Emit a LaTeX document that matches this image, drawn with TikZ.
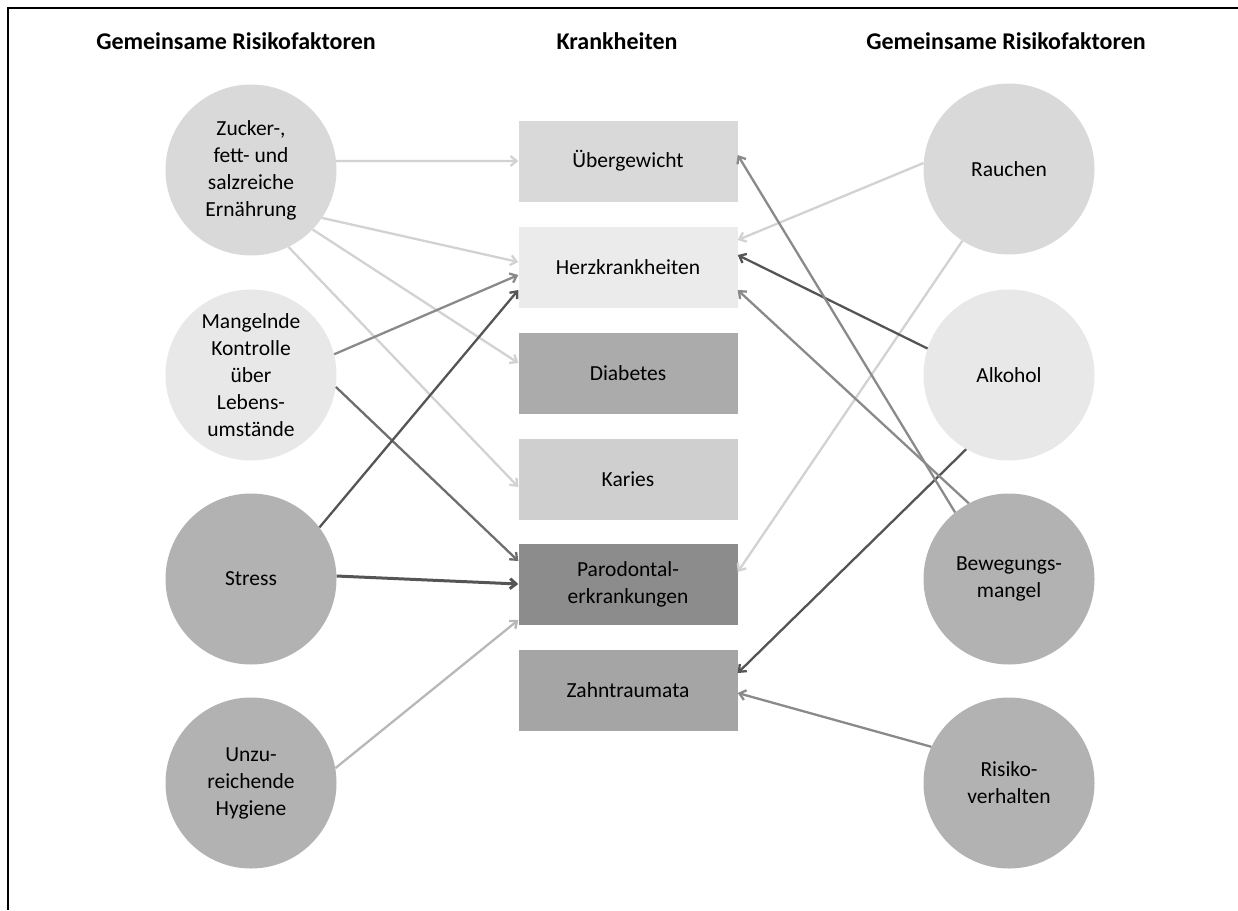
\documentclass[tikz,border=0pt]{standalone}
\usepackage{fontspec}
\setmainfont{Carlito}
\usetikzlibrary{arrows.meta}
\begin{document}
\begin{tikzpicture}[x=1pt,y=-1pt,
  factor/.style={circle,minimum size=171pt,inner sep=0pt,align=center,
    font=\fontsize{21.5}{27}\selectfont},
  disease/.style={rectangle,minimum width=219pt,minimum height=81pt,inner sep=0pt,
    align=center,font=\fontsize{21.5}{27}\selectfont},
  header/.style={font=\fontsize{24}{28}\selectfont\bfseries},
  link/.style={line width=2.3pt,-{Straight Barb[length=6pt,width=10pt]}},
]
\definecolor{gA}{HTML}{D9D9D9}
\definecolor{gB}{HTML}{E8E8E8}
\definecolor{gC}{HTML}{B2B2B2}
\definecolor{dUeber}{HTML}{D9D9D9}
\definecolor{dHerz}{HTML}{EBEBEB}
\definecolor{dDiab}{HTML}{ABABAB}
\definecolor{dKaries}{HTML}{CFCFCF}
\definecolor{dParo}{HTML}{8C8C8C}
\definecolor{dZahn}{HTML}{A5A5A5}
\definecolor{lLight}{HTML}{D2D2D2}
\definecolor{lMid}{HTML}{8A8A8A}
\definecolor{lDark}{HTML}{555555}
\definecolor{lPale}{HTML}{B8B8B8}
\definecolor{lDeep}{HTML}{6E6E6E}

\useasboundingbox (0,0) rectangle (1238,910);
% frame
\draw[line width=2.5pt] (8,910) -- (8,8) -- (1238,8);

% column headers
\node[header] (hl) at (236,41) {Gemeinsame Risikofaktoren};
\node[header] (hm) at (617,41) {Krankheiten};
\node[header] (hr) at (1006,41) {Gemeinsame Risikofaktoren};

% risk factors, left
\node[factor,fill=gA] (zucker) at (251,170) {Zucker-,\\fett- und\\salzreiche\\Ernährung};
\node[factor,fill=gB] (kontrolle) at (251,375) {Mangelnde\\Kontrolle\\über\\Lebens-\\umstände};
\node[factor,fill=gC] (stress) at (251,579) {Stress};
\node[factor,fill=gC] (hygiene) at (251,783) {Unzu-\\reichende\\Hygiene};

% risk factors, right
\node[factor,fill=gA] (rauchen) at (1009,169) {Rauchen};
\node[factor,fill=gB] (alkohol) at (1009,375) {Alkohol};
\node[factor,fill=gC] (bewegung) at (1009,579) {Bewegungs-\\mangel};
\node[factor,fill=gC] (risiko) at (1009,783) {Risiko-\\verhalten};

% diseases
\node[disease,fill=dUeber] (ueber) at (628,161) {Übergewicht};
\node[disease,fill=dHerz] (herz) at (628,267) {Herzkrankheiten};
\node[disease,fill=dDiab] (diab) at (628,373) {Diabetes};
\node[disease,fill=dKaries] (karies) at (628,479) {Karies};
\node[disease,fill=dParo] (paro) at (628,584) {Parodontal-\\erkrankungen};
\node[disease,fill=dZahn] (zahn) at (628,690) {Zahntraumata};

% links from the left
\draw[link,lLight] (zucker.6) -- (ueber.west);
\draw[link,lLight] (zucker.-34.6) -- ([yshift=5pt]herz.west);
\draw[link,lLight] (zucker.-44.5) -- ([yshift=10pt]diab.west);
\draw[link,lLight] (zucker.-64.3) -- ([yshift=-8pt]karies.west);
\draw[link,lMid] (kontrolle.14.5) -- ([yshift=-8pt]herz.west);
\draw[link,lDeep] (kontrolle.-8) -- ([yshift=23pt]paro.west);
\draw[link,lDark] (stress.37.8) -- ([yshift=-23pt]herz.west);
\draw[link,lDark,line width=3pt] (stress.2) -- (paro.west);
\draw[link,lPale] (hygiene.10.7) -- ([yshift=-36pt]paro.west);

% links from the right
\draw[link,lLight] (rauchen.176) -- ([yshift=27pt]herz.east);
\draw[link,lLight] (rauchen.237.6) -- ([yshift=12pt]paro.east);
\draw[link,lDark] (alkohol.162.8) -- ([yshift=12pt]herz.east);
\draw[link,lDark] (alkohol.240.2) -- ([yshift=17pt]zahn.east);
\draw[link,lMid] (bewegung.129.9) -- ([yshift=6pt]ueber.east);
\draw[link,lMid] (bewegung.118.3) -- ([yshift=-23pt]herz.east);
\draw[link,lMid] (risiko.155.2) -- ([yshift=-3pt]zahn.east);
\end{tikzpicture}
\end{document}
